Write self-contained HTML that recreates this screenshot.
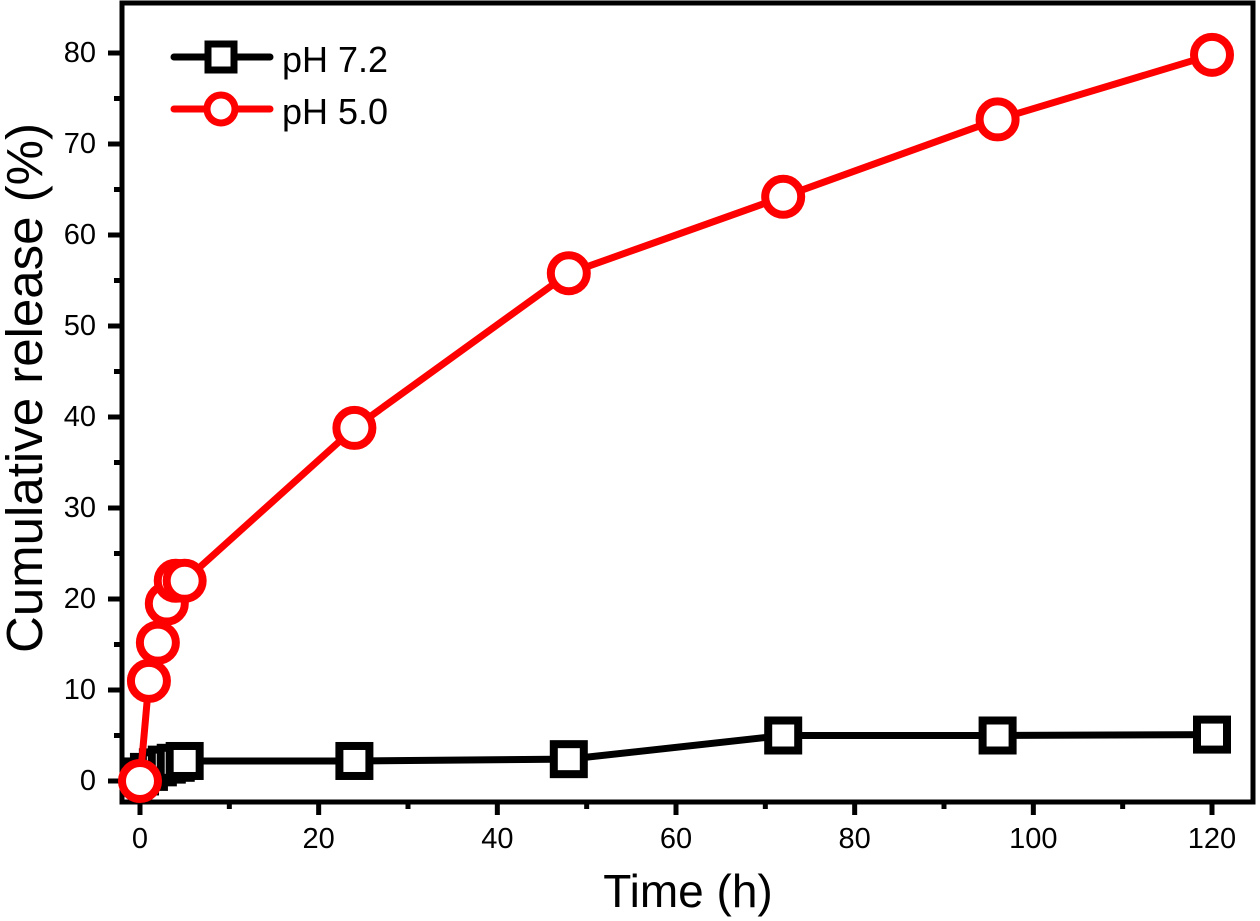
<!DOCTYPE html>
<html><head><meta charset="utf-8"><style>
body{margin:0;background:#fff;}
svg{display:block;font-family:"Liberation Sans",Arial,sans-serif;}
</style></head><body>
<svg id="chart" width="1260" height="921" viewBox="0 0 1260 921"></svg>
<script>
const xTicks=[0,20,40,60,80,100,120];
const yTicks=[0,10,20,30,40,50,60,70,80];
const timeH=[0,1,2,3,4,5,24,48,72,96,120];
const ph72=[0.5,1,1.5,1.8,2,2.2,2.2,2.4,5,5,5.1];
const ph50=[0,11,15.2,19.5,22,22,38.8,55.8,64.2,72.7,79.8];
const NS='http://www.w3.org/2000/svg';
const svg=document.getElementById('chart');
const L=122,R=1253,T=3,B=802;
function sx(v){return 140+v*(1212-140)/120;}
function sy(v){return 781-v*(781-599)/20;}
function mk(tag,at,parent){const e=document.createElementNS(NS,tag);for(const k in at)e.setAttribute(k,at[k]);(parent||svg).appendChild(e);return e;}
const frame=mk('rect',{x:L,y:T,width:R-L,height:B-T,fill:'none',stroke:'#000','stroke-width':5});


xTicks.forEach(v=>{
 const t=mk('line',{x1:sx(v),x2:sx(v),y1:B,y2:B+13,stroke:'#000','stroke-width':5});
 
 
 const lb=mk('text',{x:sx(v),y:B+46,'font-size':29,'text-anchor':'middle'});lb.textContent=v;
 
 
});
for(let v=10;v<120;v+=20){const t=mk('line',{x1:sx(v),x2:sx(v),y1:B,y2:B+7,stroke:'#000','stroke-width':5});
 
 }
yTicks.forEach(v=>{
 const t=mk('line',{x1:L-14,x2:L,y1:sy(v),y2:sy(v),stroke:'#000','stroke-width':5});
 
 
 const lb=mk('text',{x:L-26,y:sy(v)+9,'font-size':29,'text-anchor':'end'});lb.textContent=v;
 
 
});
for(let v=5;v<80;v+=10){const t=mk('line',{x1:L-8,x2:L,y1:sy(v),y2:sy(v),stroke:'#000','stroke-width':5});
 
 }
const xt=mk('text',{x:688,y:907,'font-size':46,'text-anchor':'middle'});xt.textContent='Time (h)';


const yt=mk('text',{x:0,y:0,'font-size':51,'text-anchor':'middle',transform:'translate(42,388) rotate(-90)'});yt.textContent='Cumulative release (%)';


function series(vals,color,kind,name){
 const g=mk('g',{});
 
 
 const pts=timeH.map((t,i)=>sx(t)+','+sy(vals[i])).join(' ');
 const pl=mk('polyline',{points:pts,fill:'none',stroke:color,'stroke-width':7,'stroke-linejoin':'round'},g);
 
 
 timeH.forEach((t,i)=>{
  let m;
  if(kind==='sq') m=mk('rect',{x:sx(t)-15,y:sy(vals[i])-15,width:30,height:30,fill:'#fff',stroke:color,'stroke-width':8},g);
  else m=mk('circle',{cx:sx(t),cy:sy(vals[i]),r:18,fill:'#fff',stroke:color,'stroke-width':8},g);
  
  
 });
}
series(ph72,'#000','sq','series-ph72');
series(ph50,'#f00','ci','series-ph50');
const lg=mk('g',{});


[['pH 7.2','#000','sq',57],['pH 5.0','#f00','ci',109]].forEach(([lab,c,k,y])=>{
 const e=mk('g',{},lg);
 
 
 mk('line',{x1:174,x2:270,y1:y,y2:y,stroke:c,'stroke-width':7,'stroke-linecap':'round'},e);
 if(k==='sq') mk('rect',{x:208,y:y-13,width:26,height:26,fill:'#fff',stroke:c,'stroke-width':7},e);
 else mk('circle',{cx:221,cy:y,r:14,fill:'#fff',stroke:c,'stroke-width':7},e);
 const t=mk('text',{x:282,y:y+15,'font-size':36},e);t.textContent=lab;
});
</script>
</body></html>
